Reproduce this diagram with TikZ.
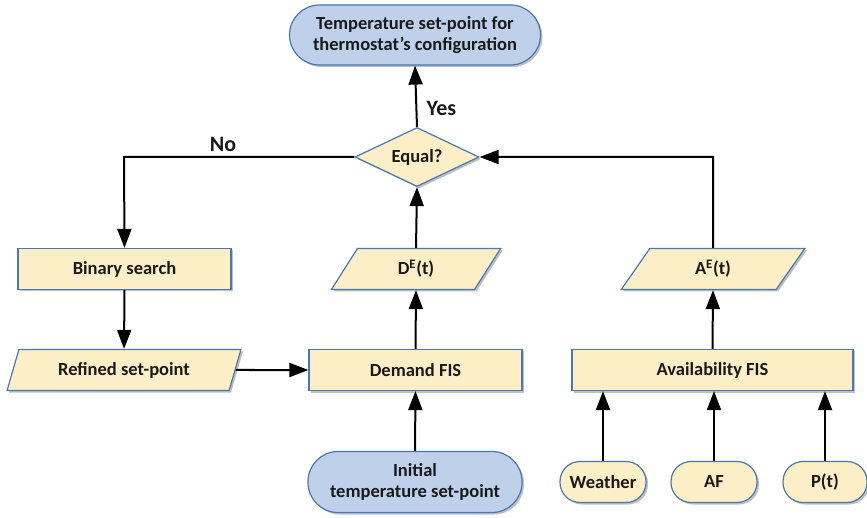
\documentclass[tikz,border=0pt]{standalone}
\usepackage{fontspec}
\setmainfont{Carlito}
\usetikzlibrary{shapes.geometric,arrows.meta,shadows}
\definecolor{bfill}{HTML}{BFD1EA}
\definecolor{yfill}{HTML}{FCEFC8}
\definecolor{edge}{HTML}{4A78B2}
\begin{document}
\begin{tikzpicture}[x=1pt,y=-1pt,
  every node/.style={font=\fontsize{18.5}{21}\selectfont\bfseries, text=black!90, align=center},
  base/.style={draw=edge, line width=1.2pt, drop shadow={shadow xshift=2pt, shadow yshift=-2pt, opacity=0.25, fill=black}},
  smallterm/.style={base, fill=yfill, rounded corners=20pt, inner sep=0pt, minimum height=41pt},
  procbox/.style={base, fill=yfill, rectangle, minimum height=41pt, inner sep=0pt},
  iobox/.style={base, fill=yfill, trapezium, trapezium left angle=65, trapezium right angle=115, trapezium stretches=true, minimum height=41pt, inner sep=0pt},
  decbox/.style={base, fill=yfill, diamond, aspect=2.1, minimum width=124pt, minimum height=59pt, inner sep=0pt},
  arr/.style={line width=2pt, -{Triangle[length=19pt,width=14pt]}},
  lbl/.style={font=\fontsize{22}{24}\selectfont\bfseries}
]
\useasboundingbox (0,0) rectangle (867,518);
\node[base, fill=bfill, rounded corners=30pt, minimum width=251pt, minimum height=60pt, inner sep=0pt] (top) at (415,35) {Temperature set-point for\\thermostat’s configuration};
\node[decbox] (eq) at (417,157) {Equal?};
\node[procbox, minimum width=213pt] (bin) at (124.5,269) {Binary search};
\node[iobox, minimum width=234pt] (ref) at (124,370) {Refined set-point};
\node[procbox, minimum width=213pt] (dem) at (415.5,370) {Demand FIS};
\node[iobox, minimum width=170pt] (de) at (416,269) {D\textsuperscript{E}(t)};
\node[base, fill=bfill, rounded corners=30pt, minimum width=214pt, minimum height=61pt, inner sep=0pt] (init) at (415,482) {Initial\\temperature set-point};
\node[iobox, minimum width=184pt] (ae) at (713,269) {A\textsuperscript{E}(t)};
\node[procbox, minimum width=281pt] (av) at (712.5,370) {Availability FIS};
\node[smallterm, minimum width=86pt] (w) at (603,482) {Weather};
\node[smallterm, minimum width=86pt] (af) at (714,482) {AF};
\node[smallterm, minimum width=84pt] (pt) at (825,482) {P(t)};
\coordinate (nocorner) at (124,157);
\coordinate (aecorner) at (713,157);
\draw[arr] (eq.north) -- (top.south) node[lbl, pos=0.3, right=6pt] {Yes};
\draw[arr] (eq.west) -- (nocorner) -- (bin.north);
\node[lbl] (no) at (223,144) {No};
\draw[arr] (bin.south) -- (ref.north);
\draw[arr] (ref.east) -- (dem.west);
\draw[arr] (dem.north) -- (de.south);
\draw[arr] (de.north) -- (eq.south);
\draw[arr] (init.north) -- (dem.south);
\draw[arr] (ae.north) -- (aecorner) -- (eq.east);
\draw[arr] (av.north) -- (ae.south);
\draw[arr] (w.north) -- (w.north |- av.south);
\draw[arr] (af.north) -- (af.north |- av.south);
\draw[arr] (pt.north) -- (pt.north |- av.south);
\end{tikzpicture}
\end{document}
